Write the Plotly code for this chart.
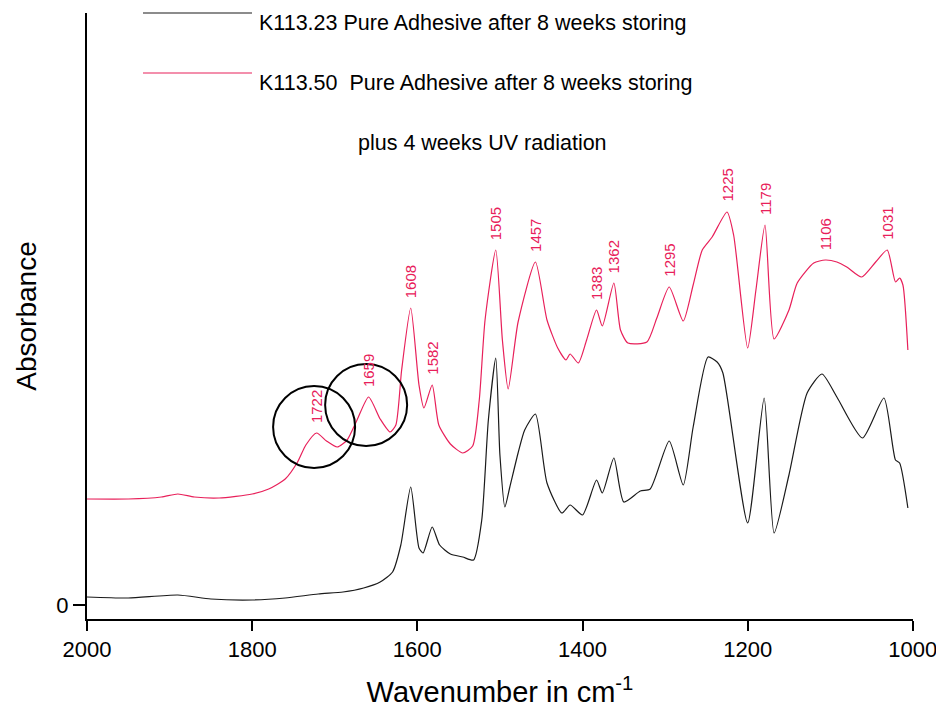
import numpy as np
import plotly.graph_objects as go

# ---- data ----
wn_red = [2000, 1950, 1910, 1890, 1870, 1840, 1800, 1780, 1760, 1745, 1735, 1722, 1710, 1697,
          1685, 1673, 1659, 1645, 1633, 1626, 1619, 1608, 1598, 1592, 1582, 1574, 1560, 1545,
          1533, 1525, 1518, 1505, 1497, 1490, 1478, 1457, 1443, 1430, 1420, 1415, 1405, 1395,
          1383, 1376, 1362, 1354, 1345, 1322, 1310, 1295, 1278, 1266, 1255, 1243, 1225, 1217,
          1200, 1190, 1179, 1168, 1150, 1140, 1120, 1106, 1092, 1080, 1062, 1045, 1031, 1021,
          1016, 1012, 1006]
abs_red = [0.212, 0.212, 0.216, 0.222, 0.216, 0.214, 0.222, 0.232, 0.252, 0.286, 0.320, 0.344,
           0.328, 0.316, 0.330, 0.370, 0.416, 0.372, 0.346, 0.360, 0.470, 0.594, 0.440, 0.394,
           0.440, 0.360, 0.322, 0.304, 0.318, 0.410, 0.570, 0.710, 0.530, 0.432, 0.566, 0.686,
           0.570, 0.514, 0.490, 0.502, 0.484, 0.530, 0.590, 0.558, 0.644, 0.550, 0.524, 0.526,
           0.574, 0.636, 0.568, 0.640, 0.710, 0.736, 0.786, 0.740, 0.514, 0.630, 0.760, 0.532,
           0.590, 0.644, 0.684, 0.690, 0.686, 0.676, 0.656, 0.686, 0.710, 0.646, 0.654, 0.640,
           0.510]

wn_black = [2000, 1950, 1890, 1850, 1800, 1760, 1720, 1690, 1665, 1645, 1630, 1620, 1608, 1598,
            1593, 1582, 1573, 1560, 1545, 1532, 1522, 1514, 1505, 1500, 1494, 1488, 1478, 1470,
            1457, 1443, 1425, 1415, 1400, 1383, 1376, 1362, 1350, 1330, 1318, 1295, 1278, 1266,
            1248, 1237, 1230, 1200, 1180, 1168, 1150, 1128, 1110, 1092, 1061, 1035, 1021, 1016,
            1006]
abs_black = [0.016, 0.014, 0.020, 0.012, 0.010, 0.014, 0.022, 0.026, 0.034, 0.046, 0.066, 0.120,
             0.236, 0.114, 0.104, 0.156, 0.120, 0.102, 0.096, 0.090, 0.170, 0.370, 0.494, 0.300,
             0.196, 0.236, 0.304, 0.350, 0.382, 0.244, 0.184, 0.200, 0.180, 0.250, 0.224, 0.294,
             0.206, 0.228, 0.232, 0.328, 0.240, 0.356, 0.496, 0.486, 0.464, 0.164, 0.414, 0.144,
             0.260, 0.424, 0.462, 0.416, 0.334, 0.414, 0.290, 0.284, 0.194]

peak_labels = [1722, 1659, 1608, 1582, 1505, 1457, 1383, 1362, 1295, 1225, 1179, 1106, 1031]
circled = [1722, 1659]
x_ticks = [2000, 1800, 1600, 1400, 1200, 1000]

name_black = "K113.23 Pure Adhesive after 8 weeks storing"
name_red = "K113.50  Pure Adhesive after 8 weeks storing"
name_red2 = "plus 4 weeks UV radiation"

RED = "#E8205A"
FONT = "Liberation Sans, Arial, sans-serif"

fig = go.Figure()
fig.add_trace(go.Scatter(x=wn_black, y=abs_black, mode="lines", name=name_black,
                         line=dict(color="#1a1a1a", width=1.2, shape="spline", smoothing=0.6)))
fig.add_trace(go.Scatter(x=wn_red, y=abs_red, mode="lines", name=name_red,
                         line=dict(color=RED, width=1.2, shape="spline", smoothing=0.6)))

# peak labels (y read from the red series)
wr = np.array(wn_red[::-1], dtype=float)
ar = np.array(abs_red[::-1], dtype=float)
for p in peak_labels:
    yv = float(np.interp(p, wr, ar))
    fig.add_annotation(x=p, y=yv, text=str(p), textangle=-90, showarrow=False,
                       xanchor="center", yanchor="bottom", yshift=8,
                       font=dict(family=FONT, size=15, color=RED))

# circles around the carbonyl peaks
for p in circled:
    yv = float(np.interp(p, wr, ar))
    fig.add_shape(type="circle", xref="x", yref="y", xsizemode="pixel", ysizemode="pixel",
                  xanchor=p + 3, yanchor=yv + 0.012 if p == 1722 else yv - 0.016,
                  x0=-41, x1=41, y0=-41, y1=41,
                  line=dict(color="black", width=2))

# legend drawn as in the original (long line samples with text to the right)
W, H = 936, 722
L, R, T, B = 87, 23, 13, 103
pw, ph = W - L - R, H - T - B

def px(xp):
    return (xp - L) / pw

def py(yp):
    return (H - B - yp) / ph

for yl, col in [(13, "#1a1a1a"), (73, RED)]:
    fig.add_shape(type="line", xref="paper", yref="paper", x0=px(143), x1=px(252),
                  y0=py(yl), y1=py(yl), line=dict(color=col, width=1.2))
fig.add_annotation(xref="paper", yref="paper", x=px(257), y=py(23), text=name_black,
                   showarrow=False, xanchor="left", yanchor="middle",
                   font=dict(family=FONT, size=21.5, color="black"))
fig.add_annotation(xref="paper", yref="paper", x=px(257), y=py(83), text=name_red,
                   showarrow=False, xanchor="left", yanchor="middle",
                   font=dict(family=FONT, size=21.5, color="black"))
fig.add_annotation(xref="paper", yref="paper", x=px(482), y=py(143), text=name_red2,
                   showarrow=False, xanchor="center", yanchor="middle",
                   font=dict(family=FONT, size=21.5, color="black"))

fig.update_layout(
    width=W, height=H, margin=dict(l=L, r=R, t=T, b=B, autoexpand=False),
    plot_bgcolor="white", paper_bgcolor="white", showlegend=False,
    font=dict(family=FONT, color="black"),
)
fig.update_xaxes(range=[2000, 999.8], tickvals=x_ticks, ticklabeloverflow="allow",
                 automargin=False,
                 ticks="outside", ticklen=10, tickwidth=2, tickcolor="black",
                 showline=True, linecolor="black", linewidth=2, showgrid=False, zeroline=False,
                 tickfont=dict(family=FONT, size=22, color="black"),
                 title=dict(text="Wavenumber in cm<sup>-1</sup>", standoff=20,
                            font=dict(family=FONT, size=29, color="black")))
fig.update_yaxes(range=[-0.028, 1.184], tickvals=[0], ticktext=["0"], automargin=False,
                 ticks="outside", ticklen=12, tickwidth=2, tickcolor="black",
                 showline=True, linecolor="black", linewidth=2, showgrid=False, zeroline=False,
                 tickfont=dict(family=FONT, size=22, color="black"),
                 title=dict(text="Absorbance", standoff=12,
                            font=dict(family=FONT, size=28, color="black")))

fig.write_html("out.html")
